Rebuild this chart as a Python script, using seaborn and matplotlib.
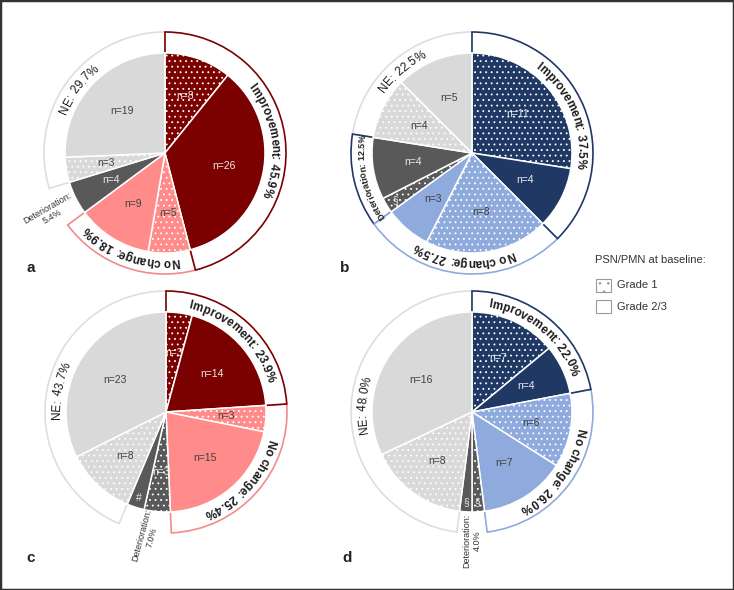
import numpy as np
import matplotlib
matplotlib.use('Agg')
import matplotlib.pyplot as plt
import seaborn as sns
from matplotlib.patches import Wedge, Rectangle
from matplotlib.font_manager import FontProperties, findfont, get_font

sns.set_theme(style='white')
plt.rcParams['font.family'] = ['Liberation Sans', 'DejaVu Sans']
plt.rcParams['hatch.linewidth'] = 0.6

# %%
# Data: patients per response group, split by PSN/PMN grade at baseline
groups = ['Improvement', 'No change', 'Deterioration', 'NE']
panel_names = ['a', 'b', 'c', 'd']

grade1_a = [8, 5, 0, 3]
grade23_a = [26, 9, 4, 19]
grade1_b = [11, 8, 1, 4]
grade23_b = [4, 3, 4, 5]
grade1_c = [3, 3, 3, 8]
grade23_c = [14, 15, 2, 23]
grade1_d = [7, 6, 1, 8]
grade23_d = [4, 7, 1, 16]

legend_title = 'PSN/PMN at baseline:'
legend_labels = ['Grade 1', 'Grade 2/3']

# %%
# Styles
reds = sns.color_palette(['#7b0000', '#ff8b8b', '#595959', '#d9d9d9'])
blues = sns.color_palette(['#1f3864', '#8faadc', '#595959', '#d9d9d9'])
ring_reds = ['#7b0000', '#f48a8a', '#595959', '#dedede']
ring_blues = ['#1f3864', '#8faadc', '#1f3864', '#dedede']
text_light = '#ececec'
text_dark = '#404040'

panels = [
    dict(g1=grade1_a, g23=grade23_a, pal=reds, ring=ring_reds, center=(1.65, 4.37),
         det=dict(dx=-1.15, dy=-0.59, rot=30), letter=(-1.34, -1.15)),
    dict(g1=grade1_b, g23=grade23_b, pal=blues, ring=ring_blues, center=(4.72, 4.37),
         det=None, letter=(-1.27, -1.15)),
    dict(g1=grade1_c, g23=grade23_c, pal=reds, ring=ring_reds, center=(1.66, 1.78),
         det=dict(dx=-0.19, dy=-1.24, rot=75), letter=(-1.35, -1.46)),
    dict(g1=grade1_d, g23=grade23_d, pal=blues, ring=ring_blues, center=(4.72, 1.78),
         det=dict(dx=0.0, dy=-1.29, rot=90), letter=(-1.25, -1.46)),
]

fig = plt.figure(figsize=(7.34, 5.9), dpi=100)
ax = fig.add_axes([0, 0, 1, 1])


def arc_text(cx, cy, text, mid, r, size, weight, color):
    # clockwise text along a circle, letter tops pointing outward
    fp = FontProperties(family='Liberation Sans', weight=weight, size=size)
    font = get_font(findfont(fp))
    font.set_size(size, 100)
    adv = [font.load_char(ord(ch)).linearHoriAdvance / 65536 / 100 for ch in text]
    ang = mid - np.degrees(sum(adv) / r) / 2
    for ch, w in zip(text, adv):
        a = ang + np.degrees(w / 2 / r)
        x = cx + r * np.sin(np.radians(a))
        y = cy + r * np.cos(np.radians(a))
        ax.text(x, y, ch, rotation=-a, rotation_mode='anchor', ha='center',
                va='baseline', fontproperties=fp, color=color, zorder=5)
        ang += np.degrees(w / r)


def slice_label(n):
    if n == 1:
        return '§'
    if n == 2:
        return '#'
    return f'n={n}'


for name, p in zip(panel_names, panels):
    cx, cy = p['center']
    vals, cols, hatches, grp = [], [], [], []
    for g in range(len(groups)):
        for n, h in ((p['g1'][g], '...'), (p['g23'][g], '')):
            if n == 0:
                continue
            vals.append(n)
            cols.append(p['pal'][g])
            hatches.append(h)
            grp.append(g)
    wedges, _ = ax.pie(vals, colors=cols, hatch=hatches, startangle=90, counterclock=False,
                       center=(cx, cy), radius=1.0,
                       wedgeprops=dict(edgecolor='white', linewidth=1.1))

    # n= labels inside the slices
    for w, n, g in zip(wedges, vals, grp):
        mid = np.radians((w.theta1 + w.theta2) / 2)
        r = 0.6 if n >= 3 else 0.9
        col = text_light if g in (0, 2) else text_dark
        ax.text(cx + r * np.cos(mid), cy + r * np.sin(mid), slice_label(n),
                ha='center', va='center', fontsize=7.5, color=col, zorder=4)

    # outer rings with group labels
    total = sum(p['g1']) + sum(p['g23'])
    grp_tot = [a + b for a, b in zip(p['g1'], p['g23'])]
    starts = np.cumsum([0] + grp_tot[:-1]) / total * 360
    ends = np.cumsum(grp_tot) / total * 360
    for g in reversed(range(len(groups))):
        pct = grp_tot[g] / total * 100
        mid = (starts[g] + ends[g]) / 2
        if g == 2 and p['det'] is not None:
            d = p['det']
            ax.text(cx + d['dx'], cy + d['dy'], f'{groups[g]}:\n{pct:.1f}%', rotation=d['rot'],
                    ha='center', va='center', multialignment='center', fontsize=6.5,
                    color='#333333', linespacing=1.1, zorder=5)
            continue
        ax.add_patch(Wedge((cx, cy), 1.21, 90 - ends[g], 90 - starts[g], width=0.23,
                           facecolor='white', edgecolor=p['ring'][g], linewidth=1.2,
                           zorder=0.5))
        if g == 2:
            arc_text(cx, cy, f'{groups[g]}: {pct:.1f}%', mid, 1.075, 6.5, 'bold', '#222222')
        else:
            weight = 'bold' if g < 2 else 'normal'
            arc_text(cx, cy, f'{groups[g]}: {pct:.1f}%', mid, 1.06, 8.5, weight, '#1a1a1a')

    lx, ly = p['letter']
    ax.text(cx + lx, cy + ly, name, ha='center', va='center', fontsize=11,
            fontweight='bold', color='#222222')

# legend
ax.text(5.95, 3.30, legend_title, ha='left', va='center', fontsize=8, color='#333333')
ax.add_patch(Rectangle((5.96, 2.98), 0.15, 0.13, facecolor='white', edgecolor='#999999',
                       hatch='..', linewidth=0.8))
ax.add_patch(Rectangle((5.96, 2.77), 0.15, 0.13, facecolor='white', edgecolor='#999999',
                       linewidth=0.8))
ax.text(6.17, 3.045, legend_labels[0], ha='left', va='center', fontsize=8, color='#333333')
ax.text(6.17, 2.835, legend_labels[1], ha='left', va='center', fontsize=8, color='#333333')

ax.set_xlim(0, 7.34)
ax.set_ylim(0, 5.9)
ax.set_aspect('equal')
ax.axis('off')

# frame around the figure
fig.patches.append(Rectangle((0, 0), 1, 1, transform=fig.transFigure, fill=False,
                             edgecolor='#333333', linewidth=2.5))

fig.savefig('out.png', dpi=100)
